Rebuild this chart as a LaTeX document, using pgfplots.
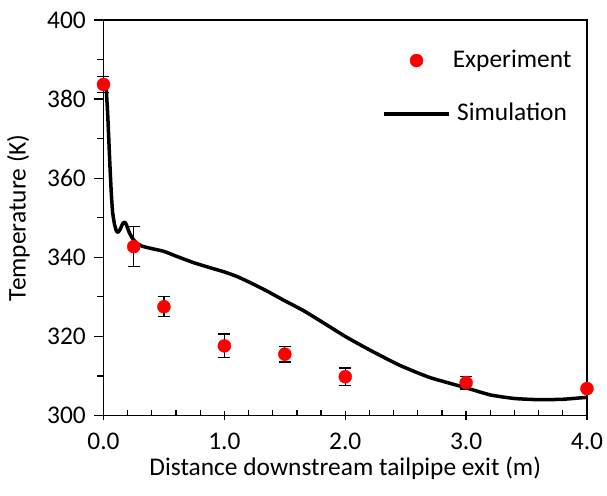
\documentclass[border=0pt]{standalone}
\usepackage{fontspec}
\setmainfont{Carlito}
\usepackage{pgfplots}
\pgfplotsset{compat=1.18}

\begin{document}
\fontsize{25.5}{30}\selectfont
\begin{tikzpicture}
\useasboundingbox (-103.5bp,-80.5bp) rectangle (503.5bp,415.5bp);
\begin{axis}[
  scale only axis,
  width=483.5bp, height=395.5bp,
  xmin=0, xmax=4, ymin=300, ymax=400,
  xtick={0,1,2,3,4},
  ytick={300,320,340,360,380,400},
  minor x tick num=4,
  minor y tick num=1,
  tick align=outside,
  major tick length=9bp,
  minor tick length=6bp,
  xtick pos=bottom, ytick pos=left,
  every tick/.style={black, line width=1.3bp},
  major x tick style={yshift=4.5bp},
  minor x tick style={yshift=6bp},
  axis line style={black, line width=1.3bp},
  /pgf/number format/assume math mode=true,
  xticklabel style={/pgf/number format/.cd, fixed, fixed zerofill, precision=1},
  yticklabel style={/pgf/number format/.cd, fixed, precision=0},
  tick label style={font=\fontsize{25.5}{30}\selectfont},
  label style={font=\fontsize{25.5}{30}\selectfont},
  xlabel={Distance downstream tailpipe exit (m)},
  ylabel={Temperature (K)},
  xlabel style={at={(axis description cs:0.5,0)}, anchor=center, yshift=-52.5bp},
  ylabel style={at={(axis description cs:-0.176,0.5)}, anchor=center},
  clip=false,
  reverse legend,
  legend style={draw=none, fill=none, at={(0.57,0.935)}, anchor=north west,
    font=\fontsize{25.5}{30}\selectfont, row sep=28bp},
]
\addplot[black, line width=3.5bp, line join=round, smooth, tension=0.3,
  legend image code/.code={\draw[black, line width=3.5bp] (0bp,0bp) -- (65bp,0bp);}]
  coordinates {
  (0.021,383.5) (0.035,376) (0.045,369) (0.055,362) (0.065,356)
  (0.075,351.5) (0.09,348.5) (0.105,346.8) (0.12,346.3) (0.14,347.2)
  (0.16,348.6) (0.175,348.9) (0.19,348.2) (0.21,346.5) (0.235,345)
  (0.27,343.7) (0.32,342.8) (0.4,342.2) (0.5,341.5) (0.6,340.3)
  (0.75,338.6) (0.9,337.2) (1.0,336.3) (1.1,335.2) (1.2,333.8)
  (1.35,331.5) (1.5,329) (1.65,326.6) (1.8,323.8) (2.0,320)
  (2.2,316.6) (2.45,312.7) (2.7,309.6) (3.0,307) (3.2,305.2)
  (3.4,304.3) (3.6,304) (3.8,304.1) (4.0,304.6)
};
\addlegendentry{Simulation}
\addplot[only marks, mark=*, mark size=6.5bp, mark options={fill=red, draw=red},
  legend image code/.code={\fill[red] (32.5bp,0bp) circle (6.5bp);},
  error bars/.cd, y dir=both, y explicit,
  error bar style={black, line width=1.3bp},
  error mark options={rotate=90, black, line width=1.3bp, mark size=6bp}]
  coordinates {
  (0,383.7) +- (0,2)
  (0.25,342.7) +- (0,5)
  (0.5,327.5) +- (0,2.5)
  (1.0,317.6) +- (0,3)
  (1.5,315.5) +- (0,2)
  (2.0,309.8) +- (0,2.2)
  (3.0,308.3) +- (0,1.6)
  (4.0,306.8) +- (0,0)
};
\addlegendentry{Experiment}
\end{axis}
\end{tikzpicture}
\end{document}
